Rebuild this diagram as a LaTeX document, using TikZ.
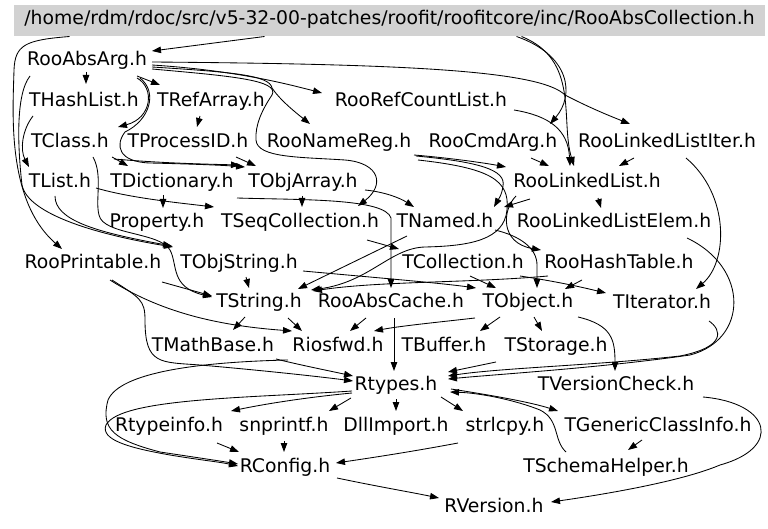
\documentclass[tikz,border=0pt]{standalone}
\usepackage{fontspec}
\setmainfont{DejaVu Sans}
\usetikzlibrary{arrows.meta}
\begin{document}
\begin{tikzpicture}[x=1pt,y=-1pt,
  font=\fontsize{18.8}{22}\selectfont,
  lab/.style={inner xsep=3pt,inner ysep=2pt,text height=1.15em,text depth=0.05em},
  e/.style={draw=black,line width=0.85pt,-{Triangle[length=9pt,width=6.5pt]}}]
\useasboundingbox (0,0) rectangle (768,529);
\node[fill=gray!35,minimum width=751pt,minimum height=31pt,inner sep=0pt,text height=0.9em,text depth=0.05em] (root) at (389.5,20.5) {/home/rdm/rdoc/src/v5-32-00-patches/roofit/roofitcore/inc/RooAbsCollection.h};
\node[lab] (RooAbsArg) at (87,60) {RooAbsArg.h};
\node[lab] (THashList) at (84,101) {THashList.h};
\node[lab] (TRefArray) at (211,101) {TRefArray.h};
\node[lab] (RooRefCountList) at (421,101) {RooRefCountList.h};
\node[lab] (TClass) at (70,142) {TClass.h};
\node[lab] (TProcessID) at (188,142) {TProcessID.h};
\node[lab] (RooNameReg) at (339,142) {RooNameReg.h};
\node[lab] (RooCmdArg) at (493,142) {RooCmdArg.h};
\node[lab] (RooLinkedListIter) at (667,142) {RooLinkedListIter.h};
\node[lab] (TList) at (60,182) {TList.h};
\node[lab] (TDictionary) at (172,182) {TDictionary.h};
\node[lab] (TObjArray) at (303,182) {TObjArray.h};
\node[lab] (RooLinkedList) at (587,182) {RooLinkedList.h};
\node[lab] (Property) at (157,222) {Property.h};
\node[lab] (TSeqCollection) at (300,222) {TSeqCollection.h};
\node[lab] (TNamed) at (445,222) {TNamed.h};
\node[lab] (RooLinkedListElem) at (614,222) {RooLinkedListElem.h};
\node[lab] (RooPrintable) at (93,263) {RooPrintable.h};
\node[lab] (TObjString) at (239,263) {TObjString.h};
\node[lab] (TCollection) at (463,263) {TCollection.h};
\node[lab] (RooHashTable) at (619,263) {RooHashTable.h};
\node[lab] (TString) at (259,302) {TString.h};
\node[lab] (RooAbsCache) at (391,302) {RooAbsCache.h};
\node[lab] (TObject) at (528,302) {TObject.h};
\node[lab] (TIterator) at (662,303) {TIterator.h};
\node[lab] (TMathBase) at (213,346) {TMathBase.h};
\node[lab] (Riosfwd) at (338,346) {Riosfwd.h};
\node[lab] (TBuffer) at (444,346) {TBuffer.h};
\node[lab] (TStorage) at (556,346) {TStorage.h};
\node[lab] (Rtypes) at (396,385) {Rtypes.h};
\node[lab] (TVersionCheck) at (616,385) {TVersionCheck.h};
\node[lab] (Rtypeinfo) at (169,426) {Rtypeinfo.h};
\node[lab] (snprintf) at (284,426) {snprintf.h};
\node[lab] (DllImport) at (396,426) {DllImport.h};
\node[lab] (strlcpy) at (505,426) {strlcpy.h};
\node[lab] (TGenericClassInfo) at (658,426) {TGenericClassInfo.h};
\node[lab] (RConfig) at (285,467) {RConfig.h};
\node[lab] (TSchemaHelper) at (606,467) {TSchemaHelper.h};
\node[lab] (RVersion) at (494,507) {RVersion.h};
% edges
\draw[e] ([shift={(-125,16)}]root.center) -- ([shift={(65,-9)}]RooAbsArg.center);
\draw[e] ([shift={(-320,16)}]root.center) .. controls (25,40) and (15,45) .. (14,70) .. controls (13,110) and (6,200) .. ([shift={(-31,-14)}]RooPrintable.center);
\draw[e] ([shift={(127,16)}]root.center) .. controls (570,55) and (575,95) .. ([shift={(57,-18)}]RooCmdArg.center);
\draw[e] ([shift={(132,16)}]root.center) .. controls (580,60) and (560,120) .. ([shift={(-13,-16)}]RooLinkedList.center);
\draw[e] ([shift={(-1,12)}]RooAbsArg.center) -- ([shift={(2,-17)}]THashList.center);
\draw[e] ([shift={(50,16)}]RooAbsArg.center) -- ([shift={(-51,-16)}]TRefArray.center);
\draw[e] ([shift={(65,5)}]RooAbsArg.center) .. controls (230,70) and (280,82) .. ([shift={(-99,-8)}]RooRefCountList.center);
\draw[e] ([shift={(65,2)}]RooAbsArg.center) .. controls (400,64) and (540,70) .. (565,95) .. controls (590,108) and (610,116) .. ([shift={(-37,-18)}]RooLinkedListIter.center);
\draw[e] ([shift={(65,7)}]RooAbsArg.center) .. controls (230,72) and (270,75) .. (272,88) .. controls (280,100) and (295,112) .. ([shift={(-29,-18)}]RooNameReg.center);
\draw[e] ([shift={(65,9)}]RooAbsArg.center) .. controls (230,76) and (280,80) .. (272,95) .. controls (262,110) and (255,125) .. (256,140) .. controls (257,158) and (300,157) .. (345,160) .. controls (380,163) and (385,185) .. ([shift={(58,-16)}]TSeqCollection.center);
\draw[e] ([shift={(50,18)}]RooAbsArg.center) .. controls (155,88) and (152,118) .. ([shift={(48,-15)}]TClass.center);
\draw[e] ([shift={(53,18)}]RooAbsArg.center) .. controls (158,92) and (150,120) .. (125,132) .. controls (115,145) and (118,162) .. (150,163) .. controls (190,164) and (220,165) .. ([shift={(-58,-15)}]TObjArray.center);
\draw[e] ([shift={(-11,15)}]TRefArray.center) -- ([shift={(9,-15)}]TProcessID.center);
\draw[e] ([shift={(-51,15)}]THashList.center) .. controls (22,130) and (20,150) .. ([shift={(-31,-15)}]TList.center);
\draw[e] ([shift={(42,15)}]TClass.center) -- ([shift={(-44,-16)}]TDictionary.center);
\draw[e] ([shift={(44,17)}]TClass.center) .. controls (160,163) and (200,164) .. ([shift={(-63,-17)}]TObjArray.center);
\draw[e] ([shift={(48,15)}]TProcessID.center) -- ([shift={(-47,-16)}]TObjArray.center);
\draw[e] ([shift={(23,15)}]TClass.center) .. controls (103,175) and (95,200) .. (99,215) .. controls (103,235) and (160,232) .. (170,250) .. controls (178,265) and (170,287) .. ([shift={(-47,-5)}]TString.center);
\draw[e] ([shift={(-57,16)}]RooAbsArg.center) .. controls (15,95) and (18,150) .. (22,185) .. controls (28,215) and (100,235) .. ([shift={(-66,-16)}]TObjString.center);
\draw[e] ([shift={(-5,14)}]TList.center) .. controls (55,220) and (95,232) .. ([shift={(-67,-17)}]TObjString.center);
\draw[e] ([shift={(69,19)}]RooPrintable.center) -- ([shift={(-47,-6)}]TString.center);
\draw[e] ([shift={(-9,13)}]TDictionary.center) -- ([shift={(6,-14)}]Property.center);
\draw[e] ([shift={(36,6)}]TList.center) .. controls (130,198) and (180,203) .. ([shift={(-86,-15)}]TSeqCollection.center);
\draw[e] ([shift={(-1,14)}]TObjArray.center) -- ([shift={(2,-15)}]TSeqCollection.center);
\draw[e] ([shift={(62,8)}]TObjArray.center) .. controls (385,192) and (400,198) .. ([shift={(-31,-15)}]TNamed.center);
\draw[e] ([shift={(65,16)}]TDictionary.center) .. controls (300,200) and (385,198) .. (391,218) -- ([shift={(0,-14)}]RooAbsCache.center);
\draw[e] ([shift={(67,18)}]TSeqCollection.center) -- ([shift={(-64,-14)}]TCollection.center);
\draw[e] ([shift={(77,14)}]RooNameReg.center) .. controls (480,162) and (506,170) .. (503,186) .. controls (502,195) and (498,200) .. ([shift={(49,-15)}]TNamed.center);
\draw[e] ([shift={(75,13)}]RooNameReg.center) .. controls (450,158) and (485,163) .. ([shift={(-81,-15)}]RooLinkedList.center);
\draw[e] ([shift={(38,16)}]RooCmdArg.center) -- ([shift={(-38,-16)}]RooLinkedList.center);
\draw[e] ([shift={(93,9)}]RooRefCountList.center) .. controls (550,116) and (568,130) .. ([shift={(-17,-16)}]RooLinkedList.center);
\draw[e] ([shift={(-33,16)}]RooLinkedListIter.center) -- ([shift={(32,-16)}]RooLinkedList.center);
\draw[e] ([shift={(19,16)}]RooLinkedListIter.center) .. controls (730,195) and (728,262) .. ([shift={(34,-14)}]TIterator.center);
\draw[e] ([shift={(-57,17)}]RooLinkedList.center) -- ([shift={(59,-15)}]TNamed.center);
\draw[e] ([shift={(11,16)}]RooLinkedList.center) -- ([shift={(-13,-14)}]RooLinkedListElem.center);
\draw[e] ([shift={(-71,14)}]RooLinkedList.center) .. controls (502,210) and (500,243) .. ([shift={(-78,-13)}]RooHashTable.center);
\draw[e] ([shift={(73,16)}]RooLinkedListElem.center) .. controls (750,268) and (748,340) .. (690,355) .. controls (600,368) and (500,374) .. ([shift={(52,-6)}]Rtypes.center);
\draw[e] ([shift={(47,18)}]TIterator.center) .. controls (722,330) and (726,347) .. (680,356) .. controls (600,365) and (500,368) .. ([shift={(52,-9)}]Rtypes.center);
\draw[e] ([shift={(50,15)}]TObject.center) .. controls (612,325) and (615,340) .. ([shift={(-1,-14)}]TVersionCheck.center);
\draw[e] ([shift={(-53,16)}]TObject.center) .. controls (440,322) and (400,326) .. ([shift={(36,-15)}]Riosfwd.center);
\draw[e] ([shift={(3,16)}]RooAbsCache.center) -- ([shift={(-2,-14)}]Rtypes.center);
\draw[e] ([shift={(-28,15)}]TObject.center) -- ([shift={(36,-15)}]TBuffer.center);
\draw[e] ([shift={(6,15)}]TObject.center) -- ([shift={(-14,-15)}]TStorage.center);
\draw[e] ([shift={(-14,15)}]TString.center) -- ([shift={(20,-16)}]TMathBase.center);
\draw[e] ([shift={(17,17)}]RooPrintable.center) .. controls (165,315) and (225,326) .. ([shift={(-46,-15)}]Riosfwd.center);
\draw[e] ([shift={(19,17)}]RooPrintable.center) .. controls (140,298) and (145,300) .. (145,320) .. controls (145,365) and (160,362) .. (200,365) .. controls (280,372) and (330,378) .. ([shift={(-43,-4)}]Rtypes.center);
\draw[e] ([shift={(29,16)}]TString.center) -- ([shift={(-36,-15)}]Riosfwd.center);
\draw[e] ([shift={(-25,16)}]RooAbsCache.center) -- ([shift={(12,-15)}]Riosfwd.center);
\draw[e] ([shift={(63,13)}]TMathBase.center) .. controls (300,365) and (330,371) .. ([shift={(-43,-9)}]Rtypes.center);
\draw[e] ([shift={(-50,14)}]Riosfwd.center) .. controls (200,362) and (120,372) .. (108,400) .. controls (100,430) and (115,440) .. (160,452) .. controls (200,458) and (220,461) .. ([shift={(-47,-3)}]RConfig.center);
\draw[e] ([shift={(-44,6)}]Rtypes.center) .. controls (250,398) and (120,398) .. (106,425) .. controls (100,440) and (130,448) .. (170,455) .. controls (200,460) and (220,462) .. ([shift={(-47,-1)}]RConfig.center);
\draw[e] ([shift={(-44,8)}]Rtypes.center) .. controls (300,398) and (260,405) .. ([shift={(62,-15)}]Rtypeinfo.center);
\draw[e] ([shift={(-45,13)}]Rtypes.center) -- ([shift={(45,-15)}]snprintf.center);
\draw[e] ([shift={(0,14)}]Rtypes.center) -- ([shift={(0,-15)}]DllImport.center);
\draw[e] ([shift={(45,12)}]Rtypes.center) -- ([shift={(-42,-15)}]strlcpy.center);
\draw[e] ([shift={(55,4)}]Rtypes.center) .. controls (490,395) and (530,402) .. ([shift={(-100,-15)}]TGenericClassInfo.center);
\draw[e] ([shift={(-40,-15)}]TSchemaHelper.center) .. controls (553,440) and (560,420) .. (540,410) .. controls (515,400) and (480,393) .. ([shift={(54,7)}]Rtypes.center);
\draw[e] ([shift={(-16,14)}]TGenericClassInfo.center) -- ([shift={(22,-17)}]TSchemaHelper.center);
\draw[e] ([shift={(48,17)}]Rtypeinfo.center) -- ([shift={(-46,-15)}]RConfig.center);
\draw[e] ([shift={(0,15)}]snprintf.center) -- ([shift={(-1,-15)}]RConfig.center);
\draw[e] ([shift={(-47,17)}]strlcpy.center) .. controls (410,452) and (370,458) .. ([shift={(51,-4)}]RConfig.center);
\draw[e] ([shift={(52,11)}]RConfig.center) .. controls (380,487) and (410,492) .. ([shift={(-55,-9)}]RVersion.center);
\draw[e] ([shift={(87,12)}]TVersionCheck.center) .. controls (772,403) and (782,448) .. (720,465) .. controls (680,482) and (600,495) .. ([shift={(57,-5)}]RVersion.center);
\draw[e] ([shift={(-60,16)}]TStorage.center) -- ([shift={(52,-13)}]Rtypes.center);
\draw[e] ([shift={(7,14)}]TObjString.center) -- ([shift={(-10,-14)}]TString.center);
\draw[e] ([shift={(64,8)}]TObjString.center) .. controls (380,278) and (440,283) .. ([shift={(-52,-14)}]TObject.center);
\draw[e] ([shift={(-38,14)}]TNamed.center) -- ([shift={(39,-13)}]TString.center);
\draw[e] ([shift={(79,18)}]RooNameReg.center) .. controls (490,168) and (510,180) .. (507,210) .. controls (504,240) and (470,246) .. (425,247) .. controls (390,248) and (370,282) .. ([shift={(52,-12)}]TString.center);
\draw[e] ([shift={(7,13)}]TCollection.center) -- ([shift={(-32,-14)}]TObject.center);
\draw[e] ([shift={(57,13)}]TCollection.center) .. controls (560,282) and (585,288) .. ([shift={(-56,-10)}]TIterator.center);
\draw[e] ([shift={(-37,17)}]RooHashTable.center) -- ([shift={(37,-13)}]TObject.center);
\draw[e] ([shift={(50,8)}]TNamed.center) .. controls (520,236) and (537,248) .. (537,265) -- ([shift={(9,-14)}]TObject.center);
\draw[e] ([shift={(-71,13)}]RooHashTable.center) .. controls (470,283) and (380,281) .. ([shift={(54,-11)}]TString.center);
\end{tikzpicture}
\end{document}
